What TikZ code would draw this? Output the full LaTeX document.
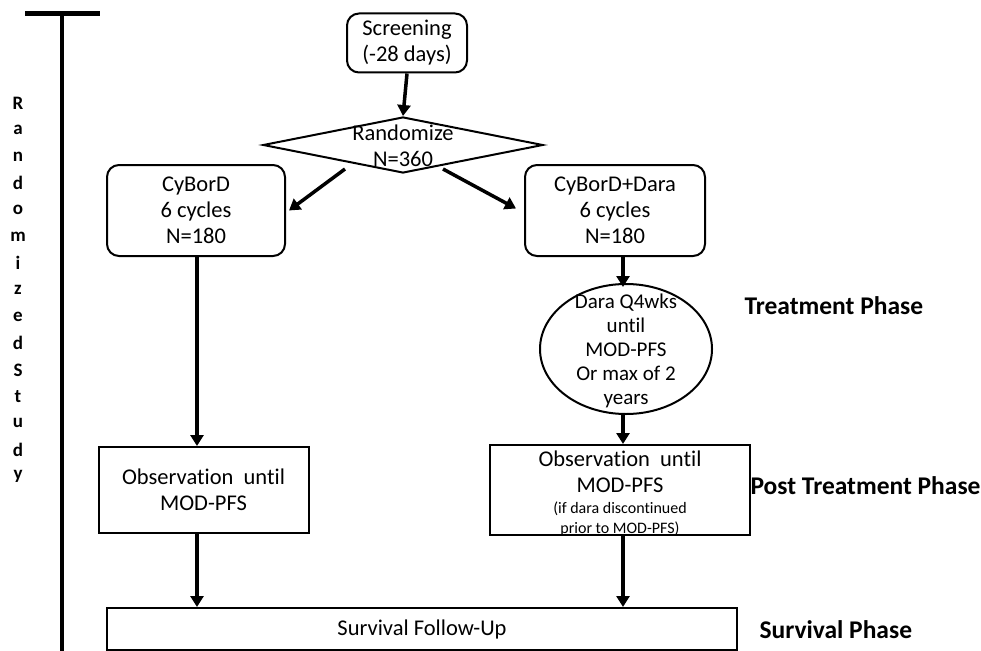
\documentclass[tikz,border=0pt]{standalone}
\usepackage{fontspec}
\setmainfont{Carlito}[Ligatures=NoCommon]
\usetikzlibrary{arrows.meta,shapes.geometric}
\newcommand{\smtxt}{\fontsize{16}{19}\selectfont}
\begin{document}
\begin{tikzpicture}[x=1pt,y=-1pt,
  every node/.style={font=\fontsize{22.5}{26}\selectfont, align=center},
  rbox/.style={draw, line width=2pt, rounded corners=12pt, inner sep=0pt},
  sbox/.style={draw, line width=2pt, inner sep=0pt},
  arr/.style={line width=3.5pt, -{Triangle[width=13pt,length=11pt]}},
  phase/.style={font=\bfseries\fontsize{25.5}{30}\selectfont, anchor=west},
  vlet/.style={font=\bfseries\fontsize{19}{22}\selectfont}]
\useasboundingbox (0,0) rectangle (981,650);
% left bar
\draw[line width=5pt] (25,14) coordinate (bl) -- (100,14) coordinate (br);
\draw[line width=4pt] (62,14) coordinate (vt) -- (62,652) coordinate (vb);
\foreach \c [count=\i from 0] in {R,a,n,d,o,m,i,z,e,d,S,t,u,d,y}
  \node[vlet] (l\i) at (18,{103+\i*26.7}) {\c};
% nodes
\node[rbox, minimum width=120pt, minimum height=59pt] (scr) at (407,43) {Screening\\(-28 days)};
\node[draw, diamond, line width=2pt, inner sep=0pt, minimum width=280pt, minimum height=56pt] (rand) at (403,145) {};
\node (randt) at (403,145.5) {Randomize\\N=360};
\node[rbox, minimum width=178pt, minimum height=91pt] (cyb) at (196,210.5) {CyBorD\\6 cycles\\N=180};
\node[rbox, minimum width=180pt, minimum height=91pt] (dara) at (615,210.5) {CyBorD+Dara\\6 cycles\\N=180};
\node[draw, ellipse, line width=2pt, inner sep=0pt, minimum width=172pt, minimum height=130pt] (ell) at (626,349) {};
\node[font=\fontsize{21}{24}\selectfont] (ellt) at (626,351) {Dara Q4wks\\until\\MOD-PFS\\Or max of 2\\years};
\node[sbox, minimum width=210pt, minimum height=86pt] (obs1) at (203.5,490) {Observation\ \ until\\MOD-PFS};
\node[sbox, minimum width=260pt, minimum height=90pt] (obs2) at (620,490) {};
\node (obs2t) at (620,493) {Observation\ \ until\\MOD-PFS\\[-5pt]{\smtxt (if dara discontinued}\\[-6pt]{\smtxt prior to MOD-PFS)}};
\node[sbox, minimum width=630pt, minimum height=42pt] (surv) at (422,629) {Survival Follow-Up};
% phase labels
\node[phase] (tp) at (741,306) {Treatment Phase};
\node[phase] (ptp) at (747,486) {Post Treatment Phase};
\node[phase] (sp) at (756,630) {Survival Phase};
% arrows
\draw[arr] (scr.south) -- (rand.north);
\draw[arr] ([xshift=-58pt,yshift=5pt]rand.south) -- ([xshift=3pt]cyb.east);
\draw[arr] ([xshift=40pt,yshift=5pt]rand.south) -- ([xshift=-8pt,yshift=2pt]dara.west);
\draw[arr] (cyb.south -| 197,0) -- (obs1.north -| 197,0);
\draw[arr] (obs1.south -| 197,0) -- (surv.north -| 197,0);
\draw[arr] (dara.south -| 623,0) -- ([yshift=-4pt]ell.north -| 623,0);
\draw[arr] (ell.south -| 623,0) -- (obs2.north -| 623,0);
\draw[arr] (obs2.south -| 623,0) -- (surv.north -| 623,0);
\end{tikzpicture}
\end{document}
